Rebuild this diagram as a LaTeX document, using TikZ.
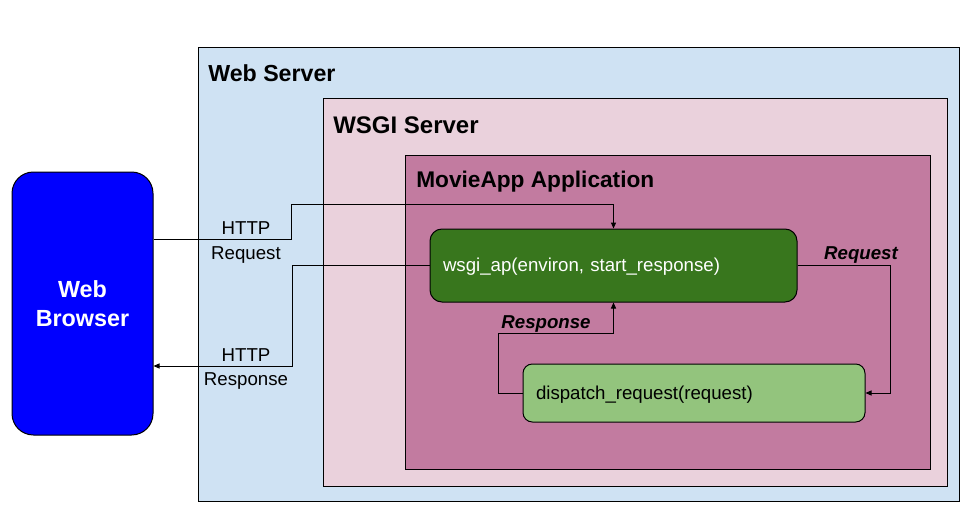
\documentclass[tikz,border=0pt]{standalone}
\usepackage{fontspec}
\setmainfont{Liberation Sans}
\usetikzlibrary{fit,arrows.meta}
\definecolor{wsblue}{HTML}{CFE2F3}
\definecolor{wsgipink}{HTML}{EAD1DC}
\definecolor{appmag}{HTML}{C27BA0}
\definecolor{dkgreen}{HTML}{38761D}
\definecolor{ltgreen}{HTML}{93C47D}
\definecolor{brblue}{HTML}{0000FF}
\begin{document}
\begin{tikzpicture}[x=0.75pt,y=-0.75pt,
  container/.style={draw=black,line width=0.75pt,inner sep=0pt},
  titletext/.style={inner sep=0pt,anchor=base west,font=\fontsize{17.4}{20}\selectfont\bfseries},
  lbl/.style={inner sep=0pt,align=center,font=\fontsize{14}{18.7}\selectfont},
  ilbl/.style={inner sep=0pt,font=\fontsize{14}{17}\selectfont\bfseries\itshape},
  func/.style={draw=black,line width=0.75pt,rounded corners=9pt,align=left,
     font=\fontsize{14}{17}\selectfont,inner xsep=9.75pt,text depth=0.5pt},
  arr/.style={draw=black,line width=0.75pt,-{Triangle[length=4.5pt,width=3.8pt]}}
]
\useasboundingbox (0,0) rectangle (972,528);
% containers
\node[container,fill=wsblue,fit={(198,48) (959,501)}] (ws) {};
\node[container,fill=wsgipink,fit={(323,99) (947,486)}] (wsgi) {};
\node[container,fill=appmag,fit={(405,156) (930,469)}] (app) {};
\node[titletext] (wstitle) at (208,81.5) {Web Server};
\node[titletext,font=\fontsize{18}{20}\selectfont\bfseries] (wsgititle) at (333,133) {WSGI Server};
\node[titletext,font=\fontsize{17}{20}\selectfont\bfseries] (apptitle) at (416,187.3) {MovieApp Application};
% browser
\node[draw=black,line width=0.75pt,fill=brblue,rounded corners=16pt,
  minimum width=105.75pt,minimum height=197.25pt,align=center,text=white,
  font=\fontsize{17.5}{21.5}\selectfont\bfseries] (browser) at (82.5,303.5) {Web\\Browser};
% functions
\node[func,fill=dkgreen,text=white,minimum width=275.25pt,minimum height=54.75pt,
  text width=255.75pt] (wsgiap) at (613.5,265.5) {wsgi\_ap(environ, start\_response)};
\node[func,fill=ltgreen,text=black,rounded corners=7pt,minimum width=256.5pt,minimum height=43.5pt,
  text width=237pt] (disp) at (694,393) {dispatch\_request(request)};
% connectors
\draw[arr] (browser.east |- 0,239) -- (291,239) -- (291,204) -| (wsgiap.north);
\draw[arr] (wsgiap.west) -- (292,265.5) -- (292,366) -- (browser.east |- 0,366);
\draw[arr] (wsgiap.east) -- (890,265.5) |- (disp.east);
\draw[arr] (disp.west) -- (498,393) -- (498,333) -| (wsgiap.south);
% labels
\node[lbl] (lreq) at (246,242.5) {HTTP\\Request};
\node[lbl] (lresp) at (246,369) {HTTP\\Response};
\node[ilbl] (ireq) at (861,255) {Request};
\node[ilbl] (iresp) at (546,324) {Response};
\end{tikzpicture}
\end{document}
